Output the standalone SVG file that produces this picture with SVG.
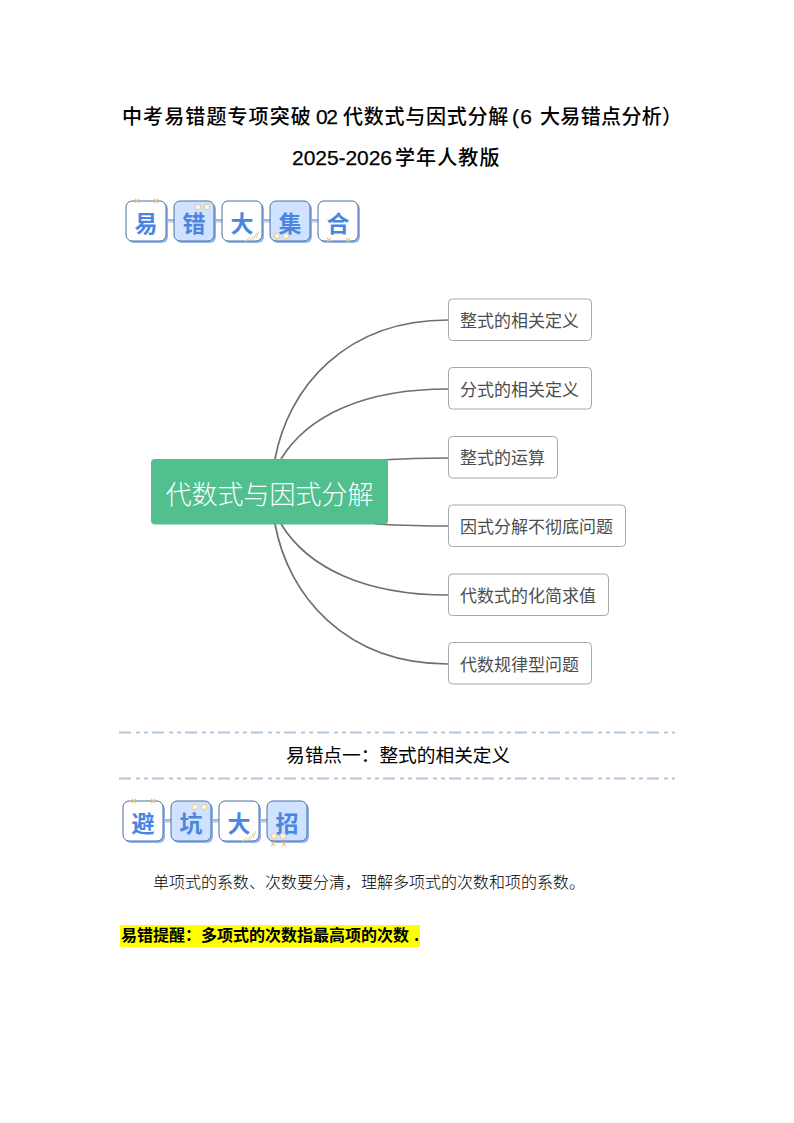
<svg xmlns="http://www.w3.org/2000/svg" width="794" height="1123" viewBox="0 0 794 1123">
<style>
text{font-family:"Noto Sans CJK SC","Noto Sans",sans-serif;fill:#000}
.t{font-size:20px;font-weight:500;letter-spacing:1.1px}
.m{font-family:"Liberation Sans","Noto Sans CJK SC",sans-serif;font-size:21px;stroke:#000;stroke-width:.25px;letter-spacing:0}
.bs{fill:#8fb4ee;stroke:none}
.bw{fill:#fff;stroke:#4a6fa5;stroke-width:1}
.bb{fill:#cfe2ff;stroke:#4a6fa5;stroke-width:1}
.bt{font-size:23px;font-weight:700;fill:#4a86e0;text-anchor:middle}
.bar{stroke:#4a6fa5;stroke-width:1;fill:none}
.bar2{stroke:#8fb4ee;stroke-width:1;fill:none}
.x{stroke:#e8c477;stroke-width:1.1;fill:none}
.c{fill:#fff8ea;stroke:#e8d3a8;stroke-width:1.2}
.h{stroke:#e9cf94;stroke-width:1;fill:none}
.conn{fill:none;stroke:#6f6f6f;stroke-width:1.7}
.leaf{fill:#fff;stroke:#a8a8a8;stroke-width:1}
.lt{font-size:17px;fill:#4d4d4d}
.dash{stroke:#b4c7dc;stroke-width:2;stroke-dasharray:12 5 4 4 4 4;fill:none}
.body{font-size:16px;font-weight:300}
.hl{font-size:16px;font-weight:700}
</style>
<defs>
<g id="xm"><path class="x" d="M-2-2.200 2 2.200M2-2.200-2 2.200"/></g>
<g id="hat"><path class="h" d="M-7 7-4 3M-4 7-.5 2M-1 6 3-1M2 4 5-3M-9 8-7 5"/></g>
</defs>
<rect width="794" height="1123" fill="#fff"/>
<g id="title">
<text class="t" x="122" y="124">中考易错题专项突破</text>
<text class="m" x="316" y="124" textLength="22">02</text>
<text class="t" x="343" y="124" style="letter-spacing:.75px">代数式与因式分解</text>
<text class="m" x="512" y="124" textLength="20">(6</text>
<text class="t" x="540" y="124" style="letter-spacing:.35px">大易错点分析）</text>
<text class="m" x="292" y="165" textLength="100">2025-2026</text>
<text class="t" x="395" y="165">学年人教版</text>
</g>
<g id="badges-1">
<path class="bar" d="M166 220h8M214 220h8M262 220h8M310 220h8"/>
<path class="bar2" d="M166 222h8M214 222h8M262 222h8M310 222h8"/>
<g id="b1-yi"><rect class="bs" x="128" y="203" width="40" height="40" rx="6"/><rect class="bw" x="126" y="201" width="40" height="40" rx="6"/><text class="bt" x="146" y="232">易</text><use href="#xm" x="137" y="201"/><use href="#xm" x="156" y="201"/></g>
<g id="b1-cuo"><rect class="bs" x="176" y="203" width="40" height="40" rx="6"/><rect class="bb" x="174" y="201" width="40" height="40" rx="6"/><text class="bt" x="194" y="232">错</text><circle class="c" cx="198" cy="207" r="2.700"/><circle class="c" cx="207" cy="207" r="2.700"/></g>
<g id="b1-da"><rect class="bs" x="224" y="203" width="40" height="40" rx="6"/><rect class="bw" x="222" y="201" width="40" height="40" rx="6"/><text class="bt" x="242" y="232">大</text><use href="#hat" x="254" y="234"/></g>
<g id="b1-ji"><rect class="bs" x="272" y="203" width="40" height="40" rx="6"/><rect class="bb" x="270" y="201" width="40" height="40" rx="6"/><text class="bt" x="290" y="232">集</text><circle class="c" cx="277" cy="236" r="2.700"/><circle class="c" cx="286" cy="236" r="2.700"/></g>
<g id="b1-he"><rect class="bs" x="320" y="203" width="40" height="40" rx="6"/><rect class="bw" x="318" y="201" width="40" height="40" rx="6"/><text class="bt" x="338" y="232">合</text><use href="#xm" x="329" y="240"/><use href="#xm" x="348" y="240"/></g>
</g>
<g id="connectors">
<path class="conn" d="M275 459C288 388 345 320 448 320"/>
<path class="conn" d="M281 459C308 415 365 389 448 389"/>
<path class="conn" d="M380 460C405 458.500 425 458 448 458"/>
<path class="conn" d="M375 524C405 525.500 425 526 448 526"/>
<path class="conn" d="M281 524C308 568 365 595 448 595"/>
<path class="conn" d="M275 524C288 595 345 664 448 664"/>
</g>
<g id="center"><rect x="151" y="459" width="237" height="65.500" rx="4" fill="#52bf8e"/><text x="269.500" y="504" text-anchor="middle" font-size="26" font-weight="300" style="fill:#fff">代数式与因式分解</text></g>
<g id="n1"><rect class="leaf" x="448.500" y="299" width="143" height="41.500" rx="4"/><text class="lt" x="460" y="327">整式的相关定义</text></g>
<g id="n2"><rect class="leaf" x="448.500" y="367.500" width="143" height="41.500" rx="4"/><text class="lt" x="460" y="396">分式的相关定义</text></g>
<g id="n3"><rect class="leaf" x="448.500" y="436.500" width="109" height="41.500" rx="4"/><text class="lt" x="460" y="464">整式的运算</text></g>
<g id="n4"><rect class="leaf" x="448.500" y="505" width="177" height="41.500" rx="4"/><text class="lt" x="460" y="533">因式分解不彻底问题</text></g>
<g id="n5"><rect class="leaf" x="448.500" y="574" width="160" height="41.500" rx="4"/><text class="lt" x="460" y="602">代数式的化简求值</text></g>
<g id="n6"><rect class="leaf" x="448.500" y="642.500" width="143" height="41.500" rx="4"/><text class="lt" x="460" y="671">代数规律型问题</text></g>
<path class="dash" d="M119 732.500H675M119 778.500H675"/>
<text x="286" y="762" font-size="18.700" font-weight="400">易错点一：整式的相关定义</text>
<g id="badges-2">
<path class="bar" d="M163 820h8M211 820h8M259 820h8"/>
<path class="bar2" d="M163 822h8M211 822h8M259 822h8"/>
<g id="b2-bi"><rect class="bs" x="125" y="803" width="40" height="40" rx="6"/><rect class="bw" x="123" y="801" width="40" height="40" rx="6"/><text class="bt" x="143" y="832">避</text><use href="#xm" x="134" y="801"/><use href="#xm" x="153" y="801"/></g>
<g id="b2-keng"><rect class="bs" x="173" y="803" width="40" height="40" rx="6"/><rect class="bb" x="171" y="801" width="40" height="40" rx="6"/><text class="bt" x="191" y="832">坑</text><circle class="c" cx="195" cy="807" r="2.700"/><circle class="c" cx="204" cy="807" r="2.700"/></g>
<g id="b2-da"><rect class="bs" x="221" y="803" width="40" height="40" rx="6"/><rect class="bw" x="219" y="801" width="40" height="40" rx="6"/><text class="bt" x="239" y="832">大</text><use href="#hat" x="251" y="834"/></g>
<g id="b2-zhao"><rect class="bs" x="269" y="803" width="40" height="40" rx="6"/><rect class="bb" x="267" y="801" width="40" height="40" rx="6"/><text class="bt" x="287" y="832">招</text><circle class="c" cx="274" cy="836" r="2.700"/><circle class="c" cx="283" cy="836" r="2.700"/><use href="#xm" x="273" y="844"/><use href="#xm" x="284" y="844"/></g>
</g>
<text class="body" x="153" y="888">单项式的系数、次数要分清，理解多项式的次数和项的系数。</text>
<rect x="120" y="925" width="300" height="22" fill="#ffff00"/>
<text class="hl" x="121" y="941">易错提醒：多项式的次数指最高项的次数</text>
<text class="hl" x="414" y="941">.</text>
</svg>
